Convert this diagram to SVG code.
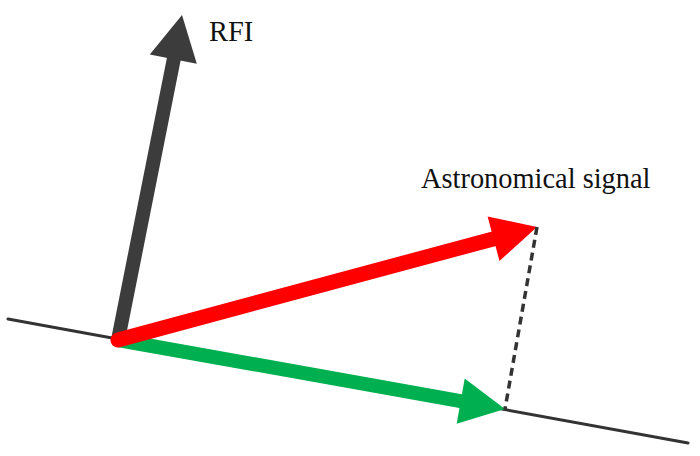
<svg xmlns="http://www.w3.org/2000/svg" width="700" height="456" viewBox="0 0 700 456">
<style>
.lbl{font-family:"Liberation Serif","Times New Roman",serif;font-size:28.4px;fill:#111}
.base{stroke:#333;stroke-width:3;stroke-linecap:round;fill:none}
.dash{stroke:#333;stroke-width:3.5;stroke-dasharray:8 5;fill:none}
</style>
<rect width="700" height="456" fill="#fff"/>
<g id="connectors">
<line class="base" x1="8" y1="319" x2="688" y2="443"/>
</g>
<g id="rfi">
<line x1="118" y1="340" x2="174" y2="58" stroke="#3c3c3c" stroke-width="14" stroke-linecap="round"/>
<polygon points="182,15 196.8,63.7 149.8,54.5" fill="#3c3c3c"/>
<text class="lbl" x="209" y="41">RFI</text>
</g>
<g id="projection">
<line x1="118" y1="340" x2="462" y2="401.3" stroke="#00b050" stroke-width="14" stroke-linecap="round"/>
<polygon points="505,409 456.7,423.7 464.7,378.5" fill="#00b050"/>
</g>
<g id="signal">
<line x1="118" y1="340" x2="495" y2="238.4" stroke="#ff0000" stroke-width="15" stroke-linecap="round"/>
<polygon points="537,227 499.5,260.9 487.6,216.5" fill="#ff0000"/>
<text class="lbl" x="421" y="188">Astronomical signal</text>
</g>
<g id="dashed">
<line class="dash" x1="537" y1="227" x2="505" y2="409"/>
</g>
</svg>
